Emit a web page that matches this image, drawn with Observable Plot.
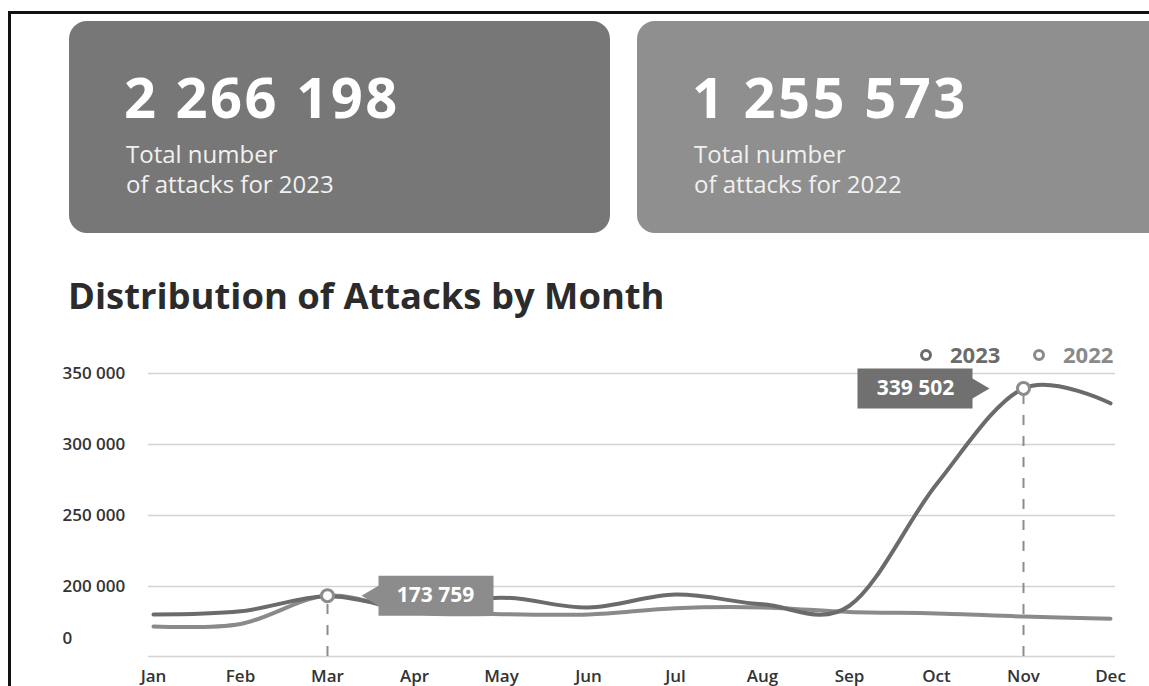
<!DOCTYPE html>
<html>
<head>
<meta charset="utf-8">
<script src="https://cdn.jsdelivr.net/npm/d3@7"></script>
<script src="https://cdn.jsdelivr.net/npm/@observablehq/plot@0.6"></script>
<style>
  html, body { margin: 0; padding: 0; background: #fff; }
  body { width: 1149px; height: 686px; overflow: hidden; position: relative; font-family: "Open Sans", sans-serif; }
  .frame { position: absolute; left: 8px; top: 11px; width: 1200px; height: 720px; border-top: 3px solid #111; border-left: 3px solid #111; }
  .card { position: absolute; top: 21px; height: 212px; border-radius: 18px; color: #fff; }
  .card1 { left: 69px; width: 541px; background: #777777; }
  .card2 { left: 637px; width: 580px; background: #8f8f8f; }
  .num { position: absolute; left: 55px; top: 47px; font-weight: 700; font-size: 56px; line-height: 56px; letter-spacing: 2.5px; white-space: nowrap; }
  .sub { position: absolute; left: 57px; top: 118px; font-size: 24px; line-height: 30px; color: #f1f1f1; white-space: nowrap; }
  .title { position: absolute; left: 68px; top: 277px; font-size: 36.4px; line-height: 36px; font-weight: 700; color: #2b2b2b; white-space: nowrap; }
  .legend-ring { position: absolute; top: 349px; width: 6px; height: 6px; border-radius: 50%; border: 3.5px solid; }
  .legend-text { position: absolute; top: 343px; font-size: 22px; line-height: 22px; font-weight: 700; }
  #chart { position: absolute; left: 0; top: 340px; }
</style>
</head>
<body>
<div class="frame"></div>
<div id="cards"></div>
<div class="title" id="title"></div>
<div id="legend"></div>
<div id="chart"></div>
<script>
// ---- data ----
const months = ["Jan","Feb","Mar","Apr","May","Jun","Jul","Aug","Sep","Oct","Nov","Dec"];
const years = ["2023", "2022"];
const values2023 = [120000, 129000, 172000, 137000, 168000, 140000, 177000, 149000, 145000, 272000, 339502, 329000];
const values2022 = [86000, 93000, 173759, 126000, 121000, 120000, 138000, 140000, 127000, 123000, 114000, 108000];
const totals = [2266198, 1255573];
const cardLines = ["Total number", "of attacks for "];
const yTicks = [200000, 250000, 300000, 350000];
const gridValues = [0, 200000, 250000, 300000, 350000];
const highlightMonths = ["Mar", "Nov"];
const highlightYears = ["2022", "2023"];
const titleText = "Distribution of Attacks by Month";

const fmt = v => d3.format(",")(v).replace(/,/g, " ");

// ---- cards ----
const cardsEl = document.getElementById("cards");
years.forEach((yr, i) => {
  const c = document.createElement("div");
  c.className = "card card" + (i + 1);
  const n = document.createElement("div");
  n.className = "num";
  n.textContent = fmt(totals[i]);
  const s = document.createElement("div");
  s.className = "sub";
  s.innerHTML = cardLines[0] + "<br>" + cardLines[1] + yr;
  c.appendChild(n); c.appendChild(s);
  cardsEl.appendChild(c);
});
document.getElementById("title").textContent = titleText;

// ---- legend ----
const colors = ["#6b6b6b", "#8a8a8a"];
const legendEl = document.getElementById("legend");
const ringLeft = [920, 1033], textLeft = [950, 1063];
years.forEach((yr, i) => {
  const r = document.createElement("div");
  r.className = "legend-ring";
  r.style.left = ringLeft[i] + "px";
  r.style.borderColor = colors[i];
  const t = document.createElement("div");
  t.className = "legend-text";
  t.style.left = textLeft[i] + "px";
  t.style.color = colors[i];
  t.textContent = yr;
  legendEl.appendChild(r); legendEl.appendChild(t);
});

// ---- table ----
const data = months.flatMap((m, i) => [
  {month: m, year: "2022", value: values2022[i]},
  {month: m, year: "2023", value: values2023[i]}
]);
const hl = highlightMonths.map((m, i) => {
  const idx = months.indexOf(m);
  const yr = highlightYears[i];
  return {month: m, year: yr, value: yr === "2023" ? values2023[idx] : values2022[idx], dir: i === 0 ? 1 : -1};
});

// callout shape as custom symbol
function callout(dir) {
  const tip = 34, base = 51, w = 115, h = 40, ah = 10;
  return {
    draw(ctx) {
      ctx.moveTo(dir * tip, 0);
      ctx.lineTo(dir * base, -ah);
      ctx.lineTo(dir * base, -h / 2);
      ctx.lineTo(dir * (base + w), -h / 2);
      ctx.lineTo(dir * (base + w), h / 2);
      ctx.lineTo(dir * base, h / 2);
      ctx.lineTo(dir * base, ah);
      ctx.closePath();
    }
  };
}

const W = 1149, H = 346, mt = 33, mb = 30, ml = 148, mr = 34;
const lowerShare = 0.2474;

const chart = Plot.plot({
  width: W, height: H,
  marginTop: mt, marginBottom: mb, marginLeft: ml, marginRight: mr,
  style: {background: "transparent", overflow: "visible", fontFamily: "'Open Sans', sans-serif", color: "#333"},
  x: {type: "point", domain: months, padding: 0},
  y: {type: "linear", domain: [0, 200000, 350000], range: [H - mb, H - mb - (H - mt - mb) * lowerShare, mt]},
  color: {domain: years, range: colors},
  marks: [
    Plot.ruleY(gridValues, {stroke: "#d3d3d3", strokeWidth: 1.5}),
    Plot.line(data, {x: "month", y: "value", z: "year", stroke: "year", strokeWidth: 4, curve: "cardinal"}),
    Plot.ruleX(hl, {x: "month", y1: 0, y2: "value", stroke: "#8c8c8c", strokeWidth: 2, strokeDasharray: "10 11"}),
    Plot.dot(hl, {x: "month", y: "value", r: 6, fill: "white", stroke: "#8c8c8c", strokeWidth: 3}),
    ...hl.map(d => Plot.dot([d], {x: "month", y: "value", r: 5, symbol: callout(d.dir), fill: d.year === "2023" ? "#707070" : "#8c8c8c", stroke: "none"})),
    ...hl.map(d => Plot.text([d], {x: "month", y: "value", text: dd => fmt(dd.value), dx: d.dir * 108, fill: "white", fontSize: 21, fontWeight: 700})),
    Plot.axisY({ticks: yTicks, tickFormat: fmt, tickSize: 0, textAnchor: "start", dx: -77, fontSize: 17, fontWeight: 600, fill: "#333", label: null}),
    Plot.axisY({ticks: [0], tickFormat: fmt, tickSize: 0, textAnchor: "start", dx: -77, dy: -18, fontSize: 17, fontWeight: 600, fill: "#333", label: null}),
    Plot.axisX({tickSize: 0, tickPadding: 13, fontSize: 17, fontWeight: 600, fill: "#333", label: null})
  ]
});
document.getElementById("chart").appendChild(chart);
</script>
</body>
</html>
